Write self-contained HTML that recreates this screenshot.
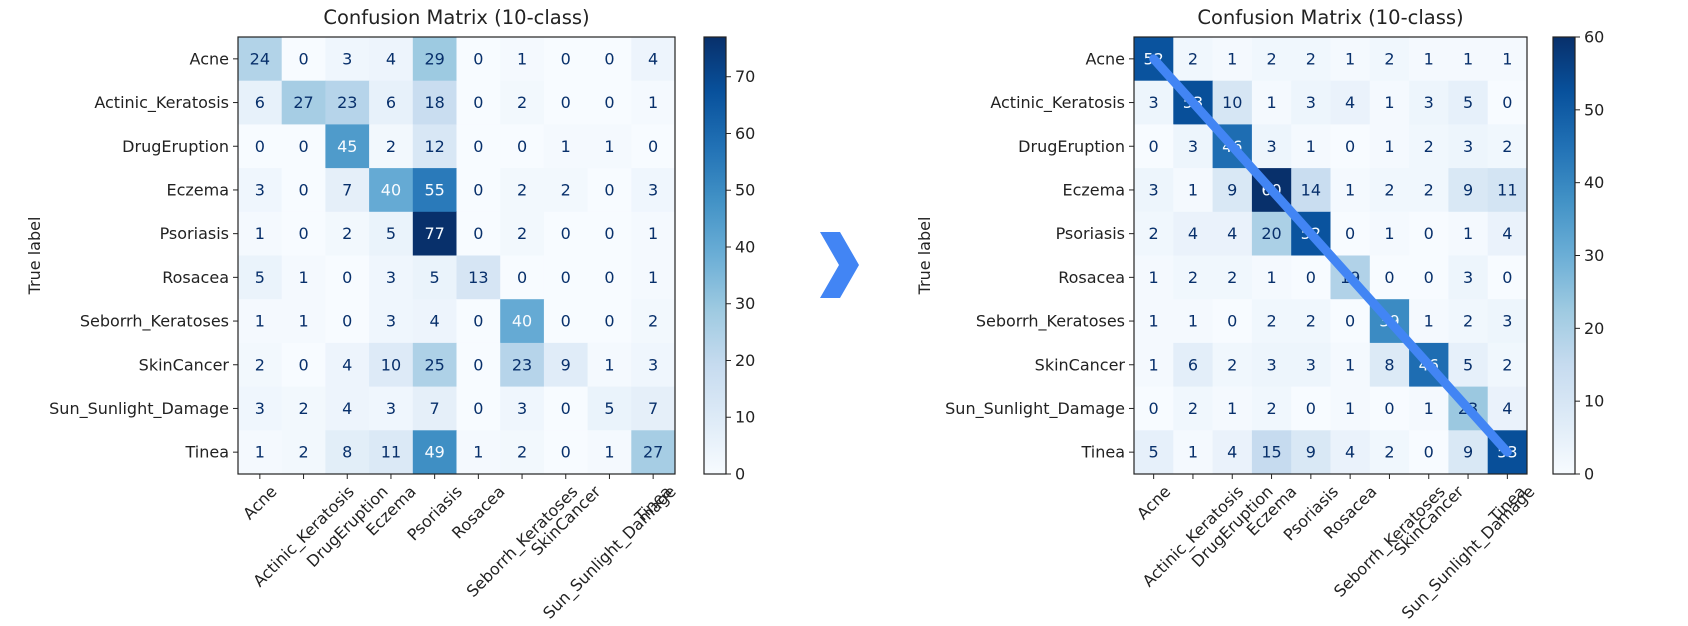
<!DOCTYPE html>
<html><head><meta charset="utf-8"><style>
html,body{margin:0;padding:0;background:#fff;}
svg{display:block;font-family:"DejaVu Sans","Liberation Sans",sans-serif;}
</style></head><body>
<svg id="svg" width="1688" height="626" viewBox="0 0 1688 626" xmlns="http://www.w3.org/2000/svg">
<defs>
<linearGradient id="blues" x1="0" y1="1" x2="0" y2="0">
<stop offset="0" stop-color="#f7fbff"/><stop offset="0.125" stop-color="#deebf7"/><stop offset="0.25" stop-color="#c6dbef"/><stop offset="0.375" stop-color="#9ecae1"/><stop offset="0.5" stop-color="#6baed6"/><stop offset="0.625" stop-color="#4292c6"/><stop offset="0.75" stop-color="#2171b5"/><stop offset="0.875" stop-color="#08519c"/><stop offset="1" stop-color="#08306b"/>
</linearGradient>
</defs>
<polygon points="820,232 840,232 859,265 840,298 820,298 839,265" fill="#4285f4"/>
</svg>
<script>
const classes = ["Acne","Actinic_Keratosis","DrugEruption","Eczema","Psoriasis","Rosacea","Seborrh_Keratoses","SkinCancer","Sun_Sunlight_Damage","Tinea"];
const leftValues = [
[24,0,3,4,29,0,1,0,0,4],
[6,27,23,6,18,0,2,0,0,1],
[0,0,45,2,12,0,0,1,1,0],
[3,0,7,40,55,0,2,2,0,3],
[1,0,2,5,77,0,2,0,0,1],
[5,1,0,3,5,13,0,0,0,1],
[1,1,0,3,4,0,40,0,0,2],
[2,0,4,10,25,0,23,9,1,3],
[3,2,4,3,7,0,3,0,5,7],
[1,2,8,11,49,1,2,0,1,27]];
const rightValues = [
[52,2,1,2,2,1,2,1,1,1],
[3,53,10,1,3,4,1,3,5,0],
[0,3,46,3,1,0,1,2,3,2],
[3,1,9,60,14,1,2,2,9,11],
[2,4,4,20,52,0,1,0,1,4],
[1,2,2,1,0,19,0,0,3,0],
[1,1,0,2,2,0,39,1,2,3],
[1,6,2,3,3,1,8,46,5,2],
[0,2,1,2,0,1,0,1,23,4],
[5,1,4,15,9,4,2,0,9,53]];
const leftTicks = [0,10,20,30,40,50,60,70];
const rightTicks = [0,10,20,30,40,50,60];

const NS="http://www.w3.org/2000/svg";
const svg=document.getElementById('svg');
const FS=16;
const stops=[[247,251,255],[222,235,247],[198,219,239],[158,202,225],[107,174,214],[66,146,198],[33,113,181],[8,81,156],[8,48,107]];
function blues(t){t=Math.max(0,Math.min(1,t));const p=t*8,i=Math.min(7,Math.floor(p)),f=p-i;const a=stops[i],b=stops[i+1];
return `rgb(${a.map((v,k)=>Math.round(v+(b[k]-v)*f)).join(',')})`;}
function mk(tag,attrs,parent){const e=document.createElementNS(NS,tag);for(const k in attrs)e.setAttribute(k,attrs[k]);(parent||svg).appendChild(e);return e;}

function drawMatrix(opts){
  const {x0,y0,w,h,values,ticks,cbx,prefix,diag}=opts;
  const n=classes.length, cw=w/n, ch=h/n;
  let vmax=0;values.forEach(r=>r.forEach(v=>{if(v>vmax)vmax=v;}));
  const g=mk('g',{});
  
  
  const xs=c=>x0+c*cw, ys=r=>y0+r*ch;
  values.forEach((row,r)=>row.forEach((v,c)=>{
    const rect=mk('rect',{x:xs(c),y:ys(r),width:cw+0.5,height:ch+0.5,fill:blues(v/vmax)},g);
    
    
    const t=mk('text',{x:xs(c)+cw/2,y:ys(r)+ch/2+5.5,'text-anchor':'middle','font-size':FS,fill:v>vmax/2?'#f7fbff':'#08306b'},g);
    
    
    t.textContent=v;
  }));
  const fr=mk('rect',{x:x0,y:y0,width:w,height:h,fill:'none',stroke:'#222','stroke-width':1.2},g);
  
  
  classes.forEach((name,i)=>{
    const cy=ys(i)+ch/2;
    mk('line',{x1:x0-5,x2:x0,y1:cy,y2:cy,stroke:'#222'},g);
    const yl=mk('text',{x:x0-9,y:cy+5.5,'text-anchor':'end','font-size':FS,fill:'#222'},g);
    
    
    yl.textContent=name;
    const cx=xs(i)+cw/2;
    mk('line',{x1:cx,x2:cx,y1:y0+h,y2:y0+h+5,stroke:'#222'},g);
    const xl=mk('text',{x:0,y:0,'text-anchor':'middle','font-size':FS,fill:'#222'},g);
    
    
    xl.textContent=name;
    const L=xl.getComputedTextLength();
    const side=(L+FS)*0.7071;
    const ccy=y0+h+9+side/2;
    xl.setAttribute('transform',`translate(${cx},${ccy}) rotate(-45) translate(0,5.5)`);
  });
  const title=mk('text',{x:x0+w/2,y:y0-13,'text-anchor':'middle','font-size':19.5,fill:'#222'},g);
  
  
  title.textContent='Confusion Matrix (10-class)';
  const yt=mk('text',{x:0,y:0,'text-anchor':'middle','font-size':FS,fill:'#222',transform:`translate(${opts.ylabX},${y0+h/2}) rotate(-90)`},g);
  
  
  yt.textContent='True label';
  if(diag){
    const dl=mk('line',{x1:xs(0)+cw/2,y1:ys(0)+ch/2,x2:xs(n-1)+cw/2,y2:ys(n-1)+ch/2,stroke:'#4285f4','stroke-width':9,'stroke-linecap':'round'},g);
    
    
  }
  const cb=mk('g',{});
  
  
  mk('rect',{x:cbx,y:y0,width:22,height:h,fill:'url(#blues)',stroke:'#222','stroke-width':1.2},cb);
  ticks.forEach(t=>{
    const ty=y0+h-(t/vmax)*h;
    mk('line',{x1:cbx+22,x2:cbx+27,y1:ty,y2:ty,stroke:'#222'},cb);
    const tl=mk('text',{x:cbx+31,y:ty+5.5,'font-size':FS,fill:'#222'},cb);
    
    
    tl.textContent=t;
  });
}
drawMatrix({x0:238,y0:37,w:437,h:437,values:leftValues,ticks:leftTicks,cbx:704,prefix:'before',diag:false,ylabX:40});
drawMatrix({x0:1134,y0:37,w:393,h:437,values:rightValues,ticks:rightTicks,cbx:1553,prefix:'after',diag:true,ylabX:930});
</script>
</body></html>
